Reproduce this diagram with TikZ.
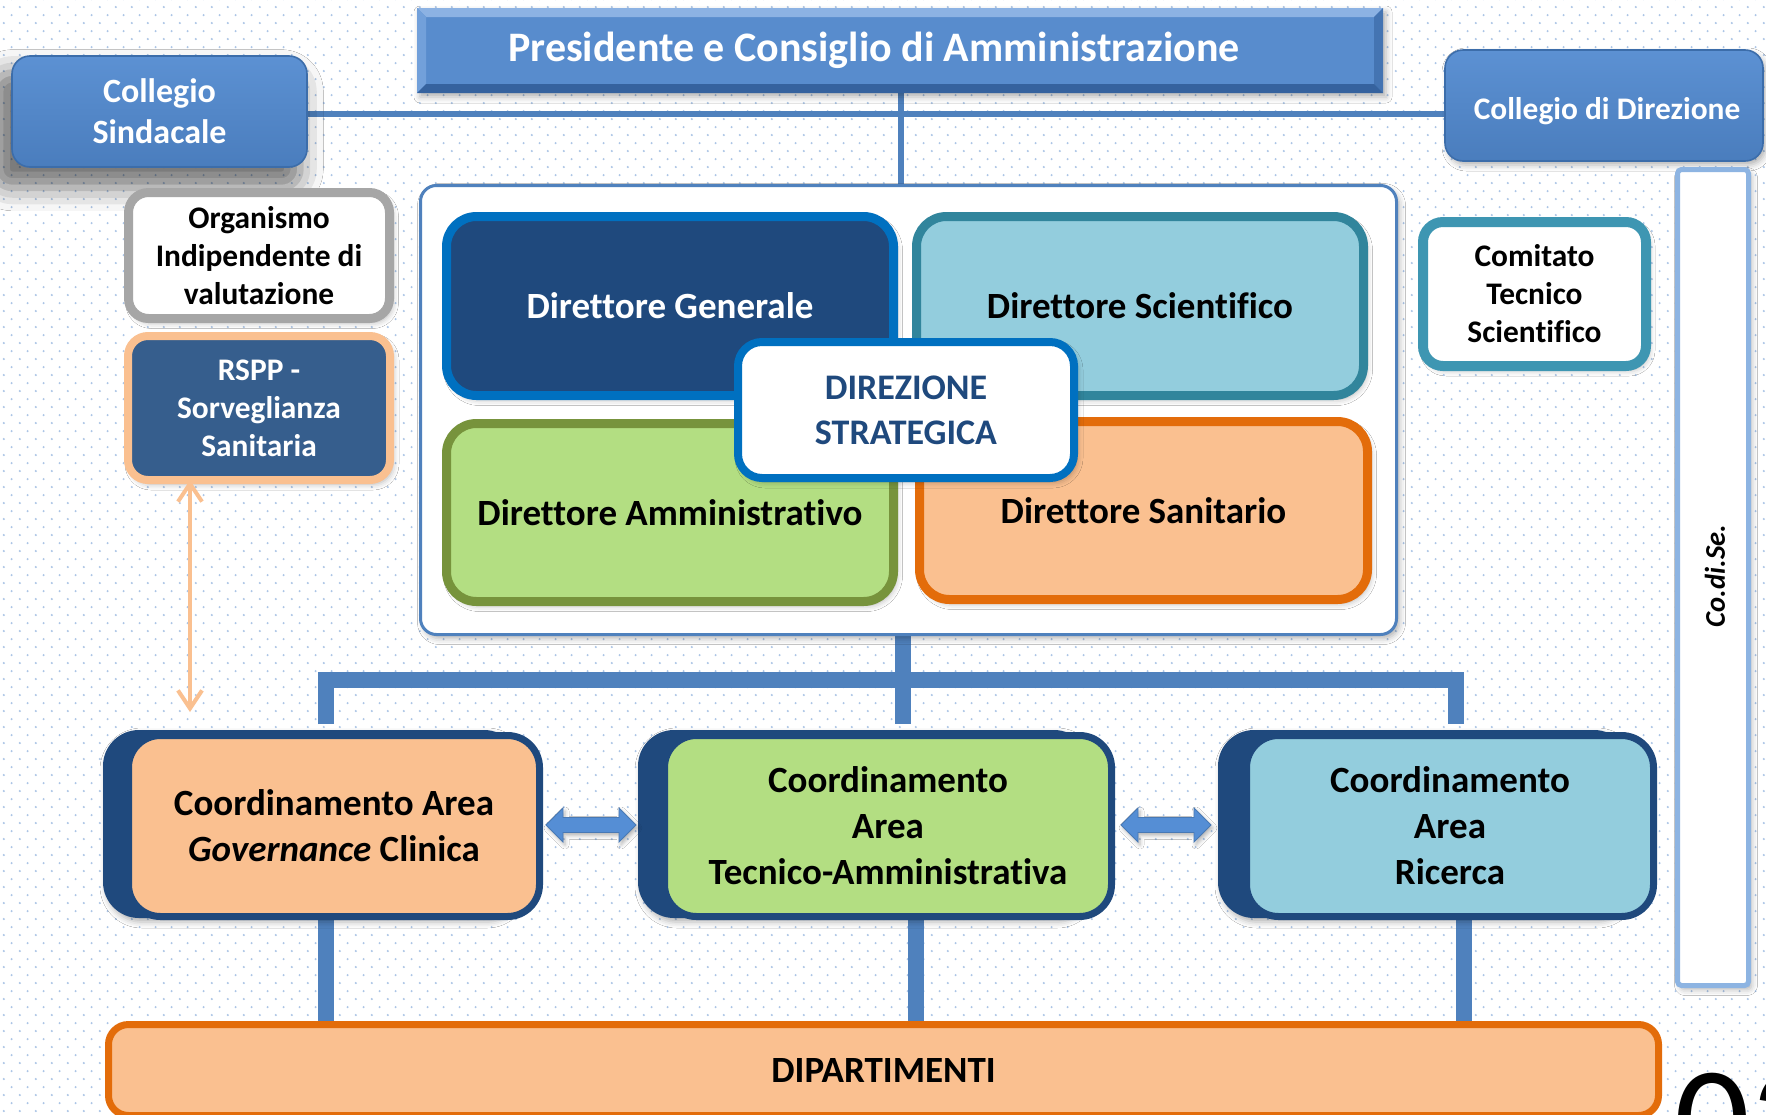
\documentclass[tikz,border=0pt]{standalone}
\usepackage{fontspec}
\setmainfont{Carlito}[Ligatures=CommonOff]
\usetikzlibrary{arrows.meta,calc,shadows.blur,patterns.meta}
\pgfdeclarelayer{bg}
\pgfsetlayers{bg,main}
\definecolor{dotcol}{RGB}{172,197,230}
\definecolor{linblue}{RGB}{79,129,189}
\definecolor{presblue}{RGB}{88,140,205}
\definecolor{arrblue}{RGB}{85,142,213}
\definecolor{bevtop}{RGB}{140,178,227}
\definecolor{bevleft}{RGB}{114,160,218}
\definecolor{bevright}{RGB}{68,116,178}
\definecolor{bevbot}{RGB}{53,98,158}
\definecolor{coltop}{RGB}{92,145,211}
\definecolor{colbot}{RGB}{74,125,189}
\definecolor{colbord}{RGB}{60,109,170}
\definecolor{navy}{RGB}{31,73,125}
\definecolor{brightblue}{RGB}{0,112,192}
\definecolor{dsborder}{RGB}{49,133,156}
\definecolor{dsfill}{RGB}{147,205,221}
\definecolor{dafill}{RGB}{179,222,130}
\definecolor{daborder}{RGB}{119,147,60}
\definecolor{peach}{RGB}{250,192,144}
\definecolor{orng}{RGB}{227,108,10}
\definecolor{rsppfill}{RGB}{54,94,141}
\definecolor{grayb}{RGB}{166,166,166}
\definecolor{ctsb}{RGB}{62,150,178}
\definecolor{codiseb}{RGB}{141,180,226}
\newcommand\szTitle{\fontsize{21pt}{25pt}\selectfont\bfseries}
\newcommand\szBig{\fontsize{18.5pt}{23pt}\selectfont\bfseries}
\newcommand\szStr{\fontsize{18pt}{22.5pt}\selectfont\bfseries}
\newcommand\szMid{\fontsize{17pt}{20.5pt}\selectfont\bfseries}
\newcommand\szSmall{\fontsize{15.7pt}{19pt}\selectfont\bfseries}
\newcommand\szCo{\fontsize{14.3pt}{17pt}\selectfont\bfseries\itshape}
\newcommand\szPage{\fontsize{75pt}{75pt}\selectfont}
\tikzdeclarepattern{
  name=bgdots,
  type=uncolored,
  bounding box={(0pt,0pt) and (7.85pt,8.2pt)},
  tile size={(7.85pt,8.2pt)},
  code={
    \fill (1.96pt,2.05pt) circle (0.6pt);
    \fill (5.89pt,6.15pt) circle (0.6pt);
  }
}
\begin{document}
\begin{tikzpicture}[x=0.5pt,y=-0.5pt,
  lbl/.style={align=center, inner sep=0pt, outer sep=0pt},
  shd/.style={blur shadow={shadow xshift=1.5pt, shadow yshift=-2pt, shadow opacity=30, shadow blur radius=3pt}},
  conn/.style={draw=linblue, line width=2.6pt},
  busline/.style={draw=linblue, line width=7.8pt},
  dirbox/.style={lbl, rounded corners=15pt, line width=4.5pt, minimum width=223.5pt, minimum height=89.5pt, font=\szBig, shd},
  coordfront/.style={lbl, rounded corners=16pt, draw=navy, line width=3.5pt, minimum height=90.5pt, font=\szBig},
  coordback/.style={lbl, rounded corners=18pt, fill=navy, minimum height=94pt, shd},
  sidebox/.style={lbl, rounded corners=10pt, line width=4.5pt, font=\szSmall, shd},
  colbox/.style={lbl, rounded corners=9pt, top color=coltop, bottom color=colbot, draw=colbord, line width=0.8pt, text=white, minimum height=55.5pt},
  dblarrow/.style={fill=arrblue, draw=arrblue!85!black, line width=0.4pt, blur shadow={shadow xshift=1pt, shadow yshift=-1.5pt, shadow opacity=30, shadow blur radius=2pt}},
  orarrow/.style={draw=peach, line width=2pt, {Straight Barb[length=9pt,width=12pt]}-{Straight Barb[length=9pt,width=12pt]}}
]
\useasboundingbox (0,0) rectangle (1766,1114);

% top
\node[lbl, fill=presblue, minimum width=483pt, minimum height=42.5pt, shd] (pres) at (900,50.5) {};
\fill[bevtop] (pres.north west) -- (pres.north east) -- ($(pres.north east)+(-9,9)$) -- ($(pres.north west)+(9,9)$) -- cycle;
\fill[bevleft] (pres.north west) -- ($(pres.north west)+(9,9)$) -- ($(pres.south west)+(9,-9)$) -- (pres.south west) -- cycle;
\fill[bevright] (pres.north east) -- ($(pres.north east)+(-9,9)$) -- ($(pres.south east)+(-9,-9)$) -- (pres.south east) -- cycle;
\fill[bevbot] (pres.south west) -- ($(pres.south west)+(9,-9)$) -- ($(pres.south east)+(-9,-9)$) -- (pres.south east) -- cycle;
\node[lbl, text=white, font=\szTitle] (prestitle) at (874,50) {Presidente e Consiglio di Amministrazione};

\node[colbox, minimum width=147.5pt, font=\szMid, blur shadow={shadow xshift=-6pt, shadow yshift=-9pt, shadow opacity=55, shadow blur radius=11pt, shadow scale=1.04}] (cs) at (159.5,111.5) {Collegio\\Sindacale};
\node[colbox, minimum width=159pt, shd] (cd) at (1604,105.5) {};
\node[lbl, text=white, font=\szSmall] (cdtxt) at (1607,111) {Collegio di Direzione};

% left column
\node[sidebox, draw=grayb, fill=white, minimum width=130.5pt, minimum height=63pt] (oiv) at (259,255.5) {Organismo\\Indipendente di\\valutazione};
\node[sidebox, draw=peach, fill=rsppfill, text=white, line width=4pt, minimum width=131pt, minimum height=72pt] (rspp) at (259,408) {RSPP -\\Sorveglianza\\Sanitaria};

% central container
\node[lbl, draw=linblue, line width=1.5pt, fill=white, rounded corners=8pt, minimum width=488pt, minimum height=224.5pt, shd] (cont) at (908.5,410) {};
\node[dirbox, draw=brightblue, fill=navy, text=white] (dg) at (670,306) {Direttore Generale};
\node[dirbox, draw=dsborder, fill=dsfill] (ds) at (1140,306) {Direttore Scientifico};
\node[dirbox, draw=daborder, fill=dafill, minimum height=89pt] (da) at (670,512.5) {Direttore Amministrativo};
\node[dirbox, draw=orng, fill=peach, minimum width=224pt, minimum height=89pt] (dsan) at (1143.5,510.5) {Direttore Sanitario};
\node[lbl, draw=brightblue, fill=white, line width=4pt, rounded corners=12pt, minimum width=168pt, minimum height=68pt, text=navy, font=\szStr, shd] (dstr) at (906,410) {DIREZIONE\\STRATEGICA};

% right column
\node[sidebox, draw=ctsb, fill=white, line width=5pt, minimum width=111.5pt, minimum height=72pt] (cts) at (1534.5,294) {Comitato\\Tecnico\\Scientifico};
\node[lbl, draw=codiseb, fill=white, line width=2.5pt, rounded corners=2pt, minimum width=35.5pt, minimum height=408pt, shd] (codise) at (1713,577.5) {};
\node[lbl, rotate=90, font=\szCo] (codisetxt) at (1715,576) {Co.di.Se.};

% coordination areas
\node[coordback, minimum width=208.5pt] (govb) at (311.5,824) {};
\node[coordfront, fill=peach, minimum width=205.5pt] (gov) at (334,826) {Coordinamento Area\\\textit{Governance} Clinica};
\node[coordback, minimum width=226pt] (tecb) at (864,824) {};
\node[coordfront, fill=dafill, minimum width=223.5pt] (tec) at (888,826) {Coordinamento\\Area\\Tecnico-Amministrativa};
\node[coordback, minimum width=206pt] (ricb) at (1424,824) {};
\node[coordfront, fill=dsfill, minimum width=203.5pt] (ric) at (1450,826) {Coordinamento\\Area\\Ricerca};

% dipartimenti
\node[lbl, draw=orng, fill=peach, line width=3.5pt, rounded corners=10pt, minimum width=775pt, minimum height=45.5pt, font=\szBig] (dip) at (883.5,1070) {DIPARTIMENTI};

% page number (cut by the page edge)
\begin{scope}
\clip (0,0) rectangle (1766,1114);
\node[anchor=north west, inner sep=0pt, font=\szPage] (pagenum) at (1674,1073) {03};
\end{scope}

% block double arrows between the coordination areas
\coordinate (a1l) at ($(gov.east)+(6.5,-1)$);
\coordinate (a1r) at ($(tecb.west)+(-2,1)$);
\coordinate (a2l) at ($(tec.east)+(9.5,-1)$);
\coordinate (a2r) at ($(ricb.west)+(-7,1)$);
\path[dblarrow] (a1l) -- ($(a1l)+(17,-17)$) -- ($(a1l)+(17,-7.5)$) -- ($(a1r)+(-17,-7.5)$) -- ($(a1r)+(-17,-17)$) -- (a1r)
  -- ($(a1r)+(-17,17)$) -- ($(a1r)+(-17,7.5)$) -- ($(a1l)+(17,7.5)$) -- ($(a1l)+(17,17)$) -- cycle;
\path[dblarrow] (a2l) -- ($(a2l)+(17,-17)$) -- ($(a2l)+(17,-7.5)$) -- ($(a2r)+(-17,-7.5)$) -- ($(a2r)+(-17,-17)$) -- (a2r)
  -- ($(a2r)+(-17,17)$) -- ($(a2r)+(-17,7.5)$) -- ($(a2l)+(17,7.5)$) -- ($(a2l)+(17,17)$) -- cycle;

\coordinate (oa) at (190,712);
\draw[orarrow] (rspp.south -| oa) -- (oa);

% connectors behind boxes
\begin{pgfonlayer}{bg}
\fill[white] (0,0) rectangle (1766,1114);
\fill[pattern=bgdots, pattern color=dotcol] (0,0) rectangle (1766,1114);
\coordinate (hy) at (901,114);
\draw[conn] (cs.east |- hy) -- (cd.west |- hy);
\draw[conn] (pres.south -| hy) -- (cont.north -| hy);
\coordinate (bj) at (903,680);
\coordinate (bl) at (326,680);
\coordinate (br) at (1456,680);
\draw[busline] (cont.south -| bj) -- (bj);
\draw[busline, shorten <=3pt, shorten >=3pt] (govb.north -| bl) -- (bl) -- (br) -- (ricb.north -| br);
\draw[busline, shorten >=3pt] (bj) -- (tecb.north -| bj);
\coordinate (l1) at (326,970);
\coordinate (l2) at (916,970);
\coordinate (l3) at (1464,970);
\draw[busline] (govb.south -| l1) -- (dip.north -| l1);
\draw[busline] (tecb.south -| l2) -- (dip.north -| l2);
\draw[busline] (ricb.south -| l3) -- (dip.north -| l3);
\end{pgfonlayer}
\end{tikzpicture}
\end{document}
